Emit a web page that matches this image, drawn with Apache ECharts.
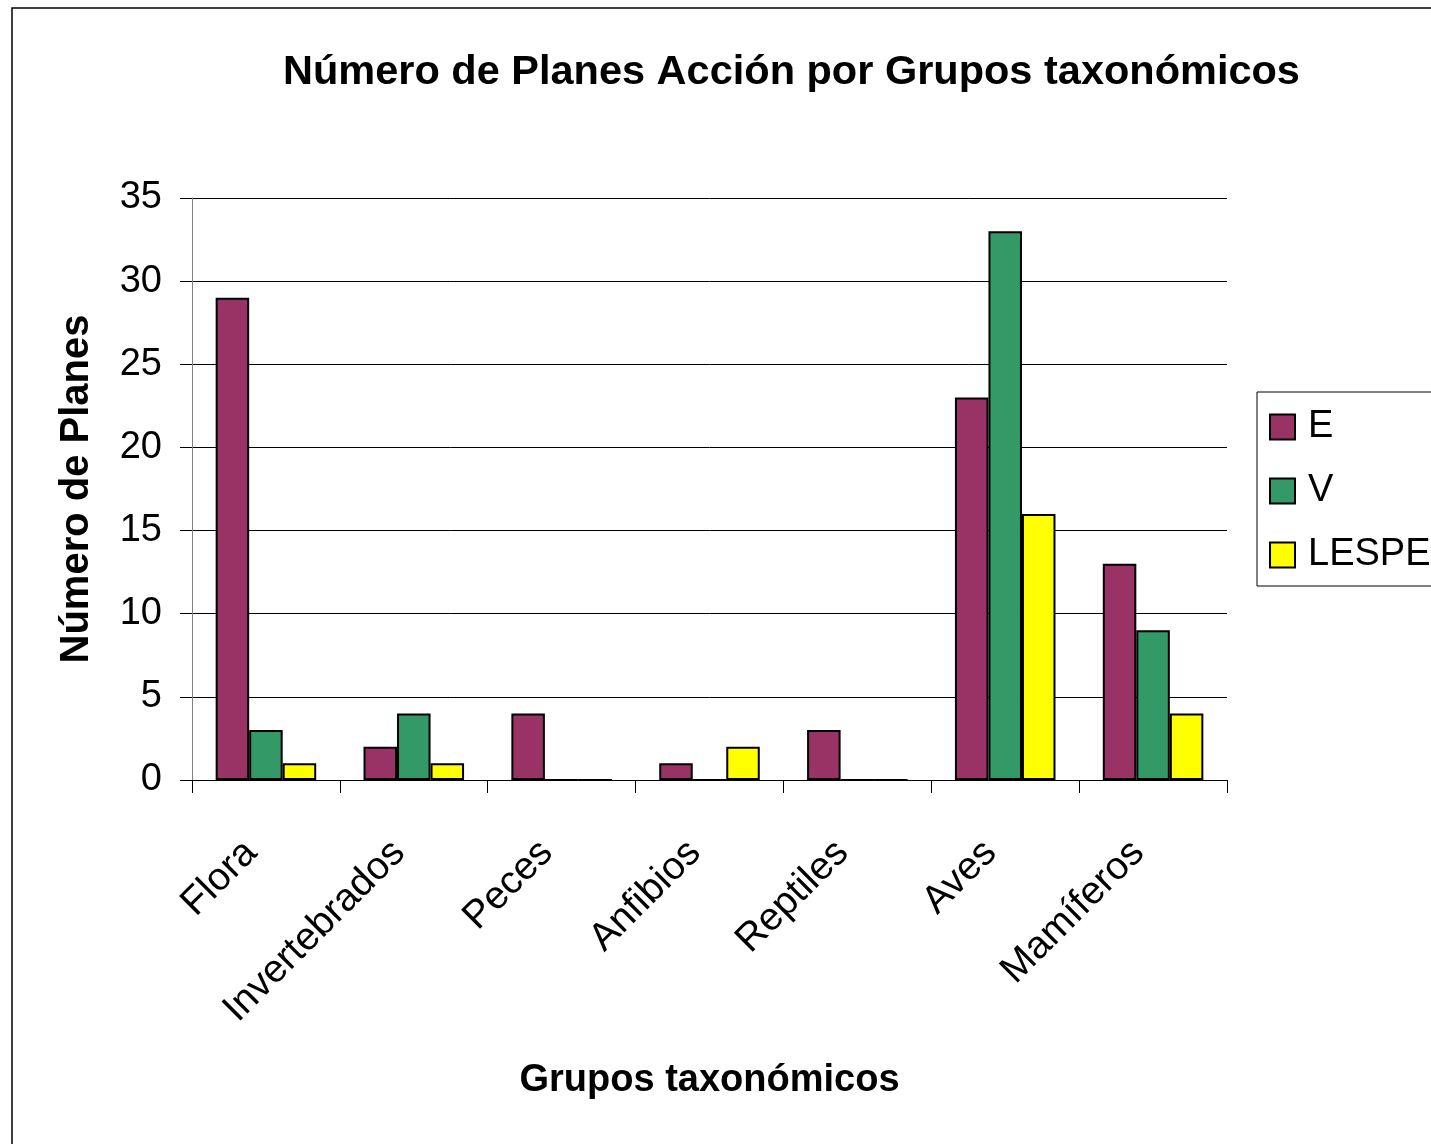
<!DOCTYPE html>
<html>
<head>
    <meta charset="utf-8">
    <script src="https://cdn.jsdelivr.net/npm/echarts@6/dist/echarts.min.js"></script>
</head>
<body style="margin: 0; background: #fff">
    <div id="container" style="width: 1431px; height: 1144px"></div>
    <script type="text/javascript">
        var categories = ['Flora', 'Invertebrados', 'Peces', 'Anfibios', 'Reptiles', 'Aves', 'Mamíferos'];
        var valuesE = [29, 2, 4, 1, 3, 23, 13];
        var valuesV = [3, 4, 0, 0, 0, 33, 9];
        var valuesLESPE = [1, 1, 0, 2, 0, 16, 4];

        var font = 'Liberation Sans, Arial, sans-serif';
        var chart = echarts.init(document.getElementById('container'));

        function bar(name, data, color) {
            return {
                name: name,
                type: 'bar',
                data: data,
                barGap: '0%',
                barCategoryGap: '32%',
                itemStyle: { color: color, borderColor: '#000', borderWidth: 2 }
            };
        }

        var option = {
            backgroundColor: '#fff',
            animation: false,
            graphic: [{
                type: 'rect',
                shape: { x: 12, y: 8, width: 1450, height: 1160 },
                style: { fill: 'none', stroke: '#000', lineWidth: 1.5 },
                z: -1
            }],
            title: {
                text: 'Número de Planes Acción por Grupos taxonómicos',
                left: 278,
                top: 47,
                textStyle: { fontFamily: font, fontSize: 41.5, fontWeight: 'bold', color: '#000' }
            },
            legend: {
                orient: 'vertical',
                left: 1257,
                top: 392,
                padding: [16, 30, 12, 12],
                itemWidth: 25,
                itemHeight: 25,
                itemGap: 26,
                icon: 'rect',
                borderColor: '#000',
                borderWidth: 1,
                textStyle: { fontFamily: font, fontSize: 38, color: '#000', lineHeight: 38, padding: [0, 0, 0, 8] },
                data: ['E', 'V', 'LESPE']
            },
            grid: { left: 192, right: 204, top: 198, bottom: 364 },
            xAxis: {
                type: 'category',
                data: categories,
                name: 'Grupos taxonómicos',
                nameLocation: 'middle',
                nameGap: 282,
                nameTextStyle: { fontFamily: font, fontSize: 38, fontWeight: 'bold', color: '#000' },
                axisLine: { lineStyle: { color: '#000', width: 1 } },
                axisTick: { show: true, length: 13, lineStyle: { color: '#000', width: 1 } },
                axisLabel: { rotate: 45, interval: 0, margin: 52, padding: [0, 21, 0, 0], fontFamily: font, fontSize: 39, color: '#000' }
            },
            yAxis: {
                type: 'value',
                min: 0,
                max: 35,
                interval: 5,
                name: 'Número de Planes',
                nameLocation: 'middle',
                nameGap: 95,
                nameTextStyle: { fontFamily: font, fontSize: 40, fontWeight: 'bold', color: '#000' },
                axisLine: { show: true, lineStyle: { color: '#808080', width: 1 } },
                axisTick: { show: true, length: 12, lineStyle: { color: '#000', width: 1 } },
                axisLabel: { margin: 30, fontFamily: font, fontSize: 38, color: '#000' },
                splitLine: { lineStyle: { color: '#000', width: 1 } }
            },
            series: [
                bar('E', valuesE, '#993366'),
                bar('V', valuesV, '#339966'),
                bar('LESPE', valuesLESPE, '#ffff00')
            ]
        };
        chart.setOption(option);
    </script>
</body>
</html>
